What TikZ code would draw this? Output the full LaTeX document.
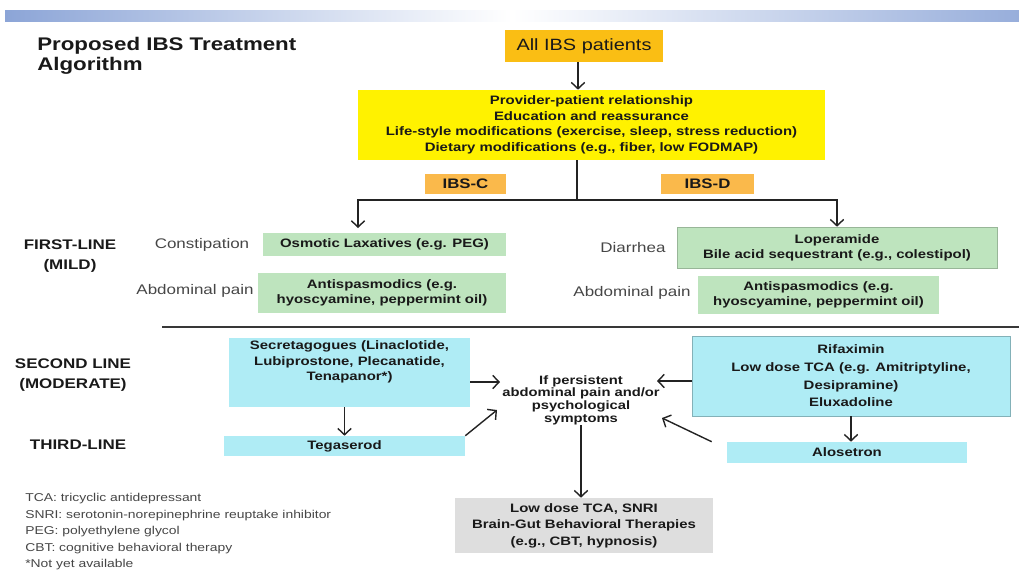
\documentclass[tikz,border=0pt]{standalone}
\usepackage{fontspec}
\setmainfont{Liberation Sans}[FakeStretch=1.22]
\usepackage{xcolor}
\usetikzlibrary{arrows.meta}
\tikzset{>={Straight Barb[length=4.5pt,width=9.5pt]}}
\definecolor{barblue}{RGB}{140,165,215}
\definecolor{allgold}{RGB}{250,190,20}
\definecolor{ibsorange}{RGB}{250,185,75}
\definecolor{mildgreen}{RGB}{190,228,190}
\definecolor{modcyan}{RGB}{175,236,245}
\definecolor{lastgray}{RGB}{222,222,222}
\definecolor{textdark}{RGB}{25,25,25}
\definecolor{textgray}{RGB}{70,70,70}
\definecolor{linedark}{RGB}{35,35,35}

\begin{document}
\begin{tikzpicture}[x=0.025cm, y=-0.025cm,
            box/.style={inner sep=0pt, align=center, text=textdark, font=\fontsize{8.7}{10.8}\selectfont\bfseries},
            lbl/.style={inner sep=0pt, align=center, text=textgray, font=\fontsize{9.9}{12}\selectfont},
            side/.style={inner sep=0pt, align=center, text=textdark, font=\fontsize{9.9}{14}\selectfont\bfseries},
            arr/.style={->, line width=1pt, draw=linedark}
        ]
            \useasboundingbox (0,0) rectangle (1019,574);
            % header band and title
            \fill[left color=barblue, right color=barblue!90, middle color=white] (5,10) rectangle (1019,21);
            \node[anchor=west, align=left, inner sep=0pt, text=textdark, font=\fontsize{13}{14.2}\selectfont\bfseries] (title) at (37,56) {Proposed IBS Treatment\\Algorithm};
            % boxes
            \node[box, fill=allgold, minimum width=3.95cm, minimum height=0.8cm, font=\fontsize{11.6}{13}\selectfont] (allibs) at (584,46) {All IBS patients};
            \node[box, fill=yellow, minimum width=11.675cm, minimum height=1.75cm, font=\fontsize{8.7}{11}\selectfont\bfseries] (ybox) at (591.5,125) {Provider-patient relationship\\Education and reassurance\\Life-style modifications (exercise, sleep, stress reduction)\\Dietary modifications (e.g., fiber, low FODMAP)};
            \node[box, fill=ibsorange, minimum width=2.025cm, minimum height=0.5cm, font=\fontsize{9.8}{11}\selectfont\bfseries] (ibsc) at (465.5,184) {IBS-C};
            \node[box, fill=ibsorange, minimum width=2.325cm, minimum height=0.5cm, font=\fontsize{9.8}{11}\selectfont\bfseries] (ibsd) at (707.5,184) {IBS-D};
            \node[box, fill=mildgreen, minimum width=6.075cm, minimum height=0.575cm] (osm) at (384.5,244.5) {Osmotic Laxatives (e.g. PEG)};
            \node[box, fill=mildgreen, minimum width=6.2cm, minimum height=1cm] (antil) at (382,293) {Antispasmodics (e.g.\\hyoscyamine, peppermint oil)};
            \node[box, fill=mildgreen, draw=mildgreen!80!black, minimum width=8cm, minimum height=1.025cm] (lop) at (837,247.5) {Loperamide\\Bile acid sequestrant (e.g., colestipol)};
            \node[box, fill=mildgreen, minimum width=6.025cm, minimum height=0.95cm] (antir) at (818.5,295) {Antispasmodics (e.g.\\hyoscyamine, peppermint oil)};
            \node[box, fill=modcyan, minimum width=6.025cm, minimum height=1.725cm] (secr) at (349.5,372.5) {};
            \node[box] (secrtxt) at (349.5,362) {Secretagogues (Linaclotide,\\Lubiprostone, Plecanatide,\\Tenapanor*)};
            \node[box, fill=modcyan, minimum width=6.025cm, minimum height=0.5cm] (teg) at (344.5,446) {Tegaserod};
            \node[box, fill=modcyan, draw=modcyan!75!black, minimum width=7.95cm, minimum height=2cm, font=\fontsize{8.7}{12.6}\selectfont\bfseries] (rif) at (851,376) {Rifaximin\\Low dose TCA (e.g. Amitriptyline,\\Desipramine)\\Eluxadoline};
            \node[box, fill=modcyan, minimum width=6cm, minimum height=0.525cm] (alo) at (847,452.5) {Alosetron};
            \node[box, fill=lastgray, minimum width=6.45cm, minimum height=1.375cm, font=\fontsize{8.7}{11.7}\selectfont\bfseries] (low) at (584,525.5) {Low dose TCA, SNRI\\Brain-Gut Behavioral Therapies\\(e.g., CBT, hypnosis)};
            \node[box, font=\fontsize{8.6}{9}\selectfont\bfseries] (persist) at (581,400) {If persistent\\abdominal pain and/or\\psychological\\symptoms};
            % row labels
            \node[side] (firstlbl) at (70,256) {FIRST-LINE\\(MILD)};
            \node[side] (secondlbl) at (73,375) {SECOND LINE\\(MODERATE)};
            \node[side] (thirdlbl) at (78,445) {THIRD-LINE};
            \node[lbl] (constip) at (202,245) {Constipation};
            \node[lbl] (abdl) at (195,291) {Abdominal pain};
            \node[lbl] (diar) at (633,248) {Diarrhea};
            \node[lbl] (abdr) at (632,293) {Abdominal pain};
            % footnotes
            \node[anchor=north west, align=left, inner sep=0pt, text=textgray, font=\fontsize{8.1}{11.8}\selectfont] (notes) at (25,493) {TCA: tricyclic antidepressant\\SNRI: serotonin-norepinephrine reuptake inhibitor\\PEG: polyethylene glycol\\CBT: cognitive behavioral therapy\\*Not yet available};
            % separator
            \draw[line width=1.8pt, draw=black!78] (162,327) -- (1019,327);
            % paths
            \coordinate (split) at (577,200);
            \coordinate (cend) at (358,228);
            \coordinate (p1) at (500,382);
            \coordinate (p2) at (497,410);
            \coordinate (p3) at (657,381);
            \coordinate (p4) at (662,418);
            \draw[arr] ([xshift=-0.15cm]allibs.south) -- ([xshift=-0.15cm]allibs.south |- ybox.north);
            \draw[line width=1pt, draw=linedark] (ybox.south -| split) -- (split);
            \draw[arr] (split) -| (cend);
            \draw[arr] (split) -| (lop.north);
            \draw[arr] (teg.north |- secr.south) -- (teg.north);
            \draw[arr] (secr.east |- p1) -- (p1);
            \draw[arr] (teg.north east) -- (p2);
            \draw[arr] (rif.west |- p3) -- (p3);
            \draw[arr] ([xshift=-0.375cm]alo.north west) -- (p4);
            \draw[arr] (rif.south) -- (rif.south |- alo.north);
            \draw[arr] (persist.south) -- (persist.south |- low.north);
        \end{tikzpicture}
\end{document}
